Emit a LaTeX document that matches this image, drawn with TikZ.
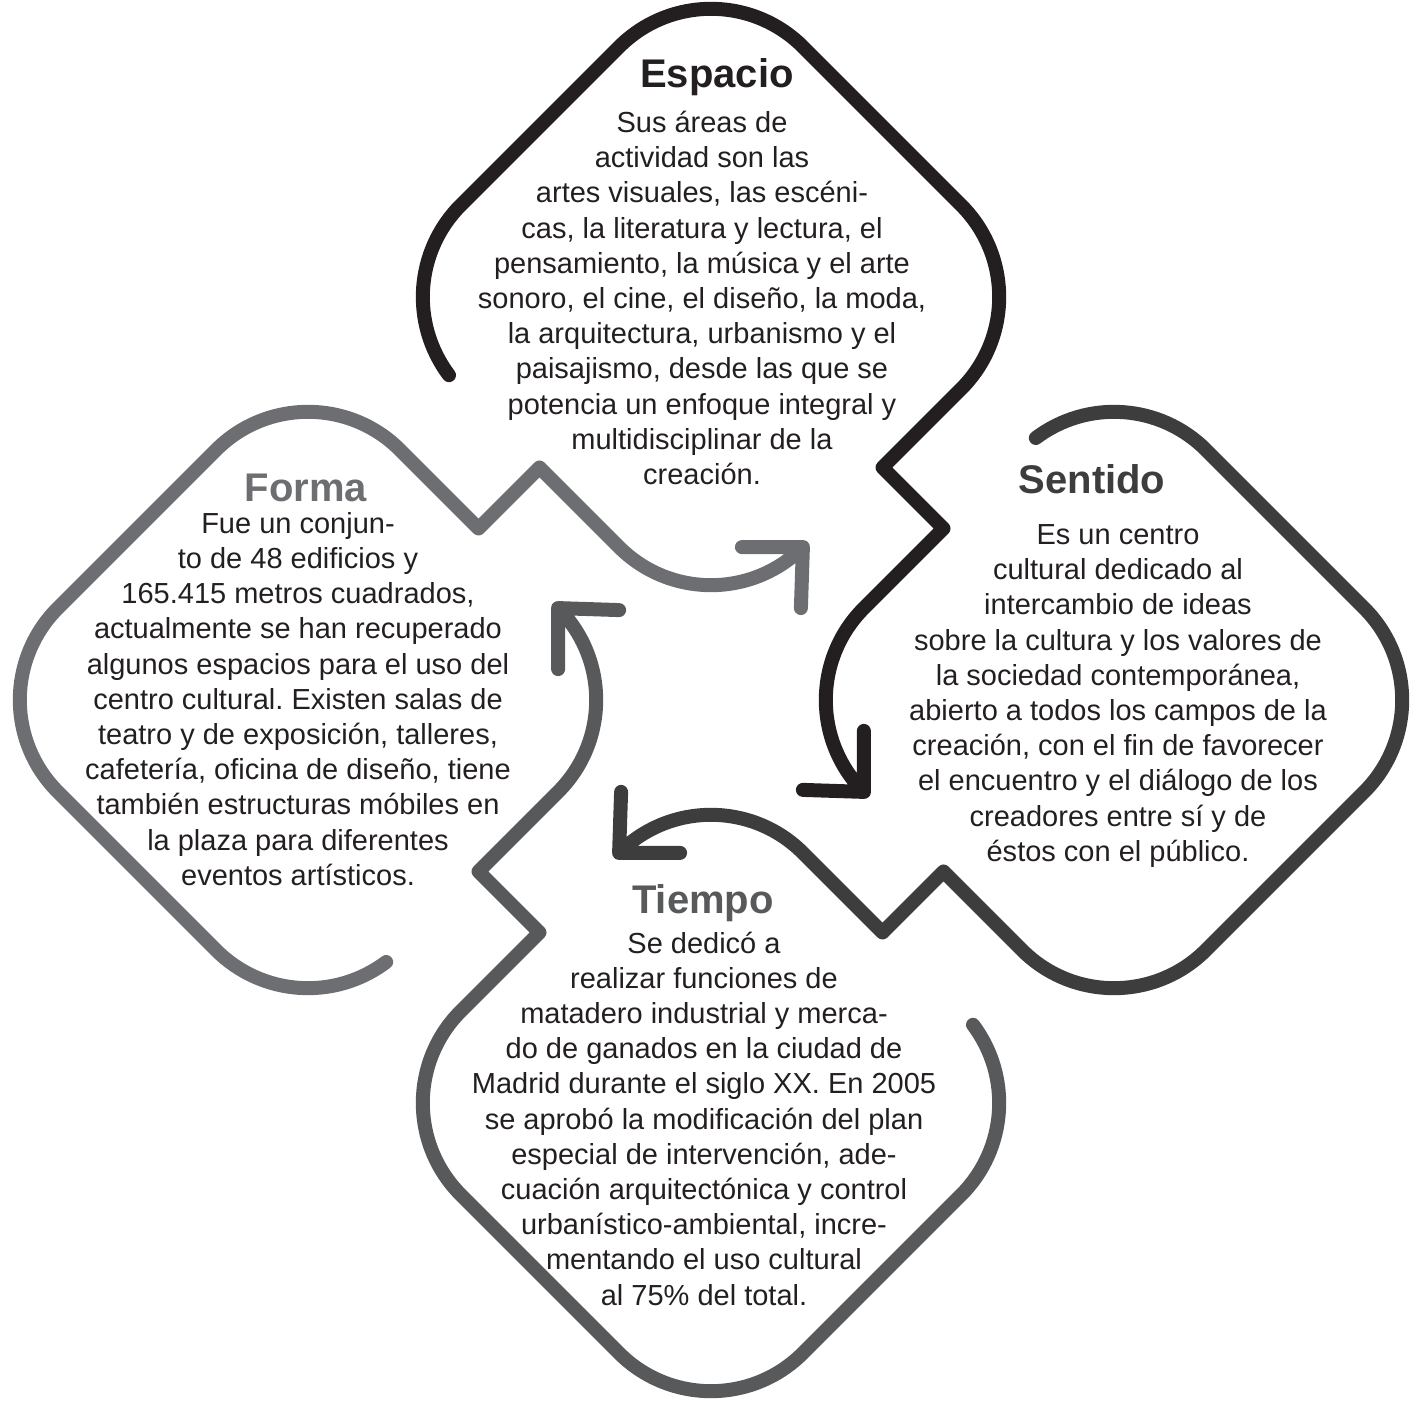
\documentclass[tikz,border=0pt]{standalone}
\usepackage{fontspec}
\setmainfont{Liberation Sans}
\usepackage{xcolor}
\usepackage{tikz}
\frenchspacing
\definecolor{ink}{HTML}{231f20}
\definecolor{espacio}{HTML}{231f20}
\definecolor{sentido}{HTML}{3d3d3e}
\definecolor{tiempo}{HTML}{58595b}
\definecolor{forma}{HTML}{6d6e71}

\begin{document}
\begin{tikzpicture}[x=1pt,y=1pt,
    ribbon/.style={line width=14pt,line cap=round,line join=round},
    head/.style={font=\fontsize{40}{48}\selectfont\bfseries,inner sep=0pt,anchor=base},
    body/.style={font=\fontsize{29}{35.2}\selectfont,text=ink,align=center,inner sep=0pt}]
    \useasboundingbox (0,0) rectangle (1411,1401);
    \foreach \ang/\col in {0/espacio,-90/sentido,-180/tiempo,-270/forma}{
        \begin{scope}[rotate around={\ang:(711,701)}]
            \draw[ribbon,\col] (449,1025.8) arc[start angle=217,end angle=135,radius=130]
                -- (619.1,1354.1) arc[start angle=135,end angle=45,radius=130]
                -- (961.1,1195.9) arc[start angle=45,end angle=-45,radius=130]
                -- (882.5,933.5) -- (943.5,872.5) -- (863.9,792.9)
                arc[start angle=135,end angle=225,radius=130]
                -- (863.9,670.1)
                (802.9,611.1) -- (863.9,609.1);
        \end{scope}
    }
    \node[head,espacio] (esph) at (717,1313) {Espacio};
    \node[head,sentido] (senh) at (1092,907) {Sentido};
    \node[head,tiempo] (tieh) at (703,487) {Tiempo};
    \node[head,forma] (forh) at (306,899) {Forma};
    \node[body] (espb) at (702,1103) {Sus áreas de\\actividad son las\\artes visuales, las escéni-\\cas, la literatura y lectura, el\\pensamiento, la música y el arte\\sonoro, el cine, el diseño, la moda,\\la arquitectura, urbanismo y el\\paisajismo, desde las que se\\potencia un enfoque integral y\\multidisciplinar de la\\creación.};
    \node[body] (senb) at (1118,705) {Es un centro\\cultural dedicado al\\intercambio de ideas\\sobre la cultura y los valores de\\la sociedad contemporánea,\\abierto a todos los campos de la\\creación, con el fin de favorecer\\el encuentro y el diálogo de los\\creadores entre sí y de\\éstos con el público.};
    \node[body] (tieb) at (704,282.5) {Se dedicó a\\realizar funciones de\\matadero industrial y merca-\\do de ganados en la ciudad de\\Madrid durante el siglo XX. En 2005\\se aprobó la modificación del plan\\especial de intervención, ade-\\cuación arquitectónica y control\\urbanístico-ambiental, incre-\\mentando el uso cultural\\al 75\% del total.};
    \node[body] (forb) at (298,702) {Fue un conjun-\\to de 48 edificios y\\165.415 metros cuadrados,\\actualmente se han recuperado\\algunos espacios para el uso del\\centro cultural. Existen salas de\\teatro y de exposición, talleres,\\cafetería, oficina de diseño, tiene\\también estructuras móbiles en\\la plaza para diferentes\\eventos artísticos.};
\end{tikzpicture}
\end{document}
